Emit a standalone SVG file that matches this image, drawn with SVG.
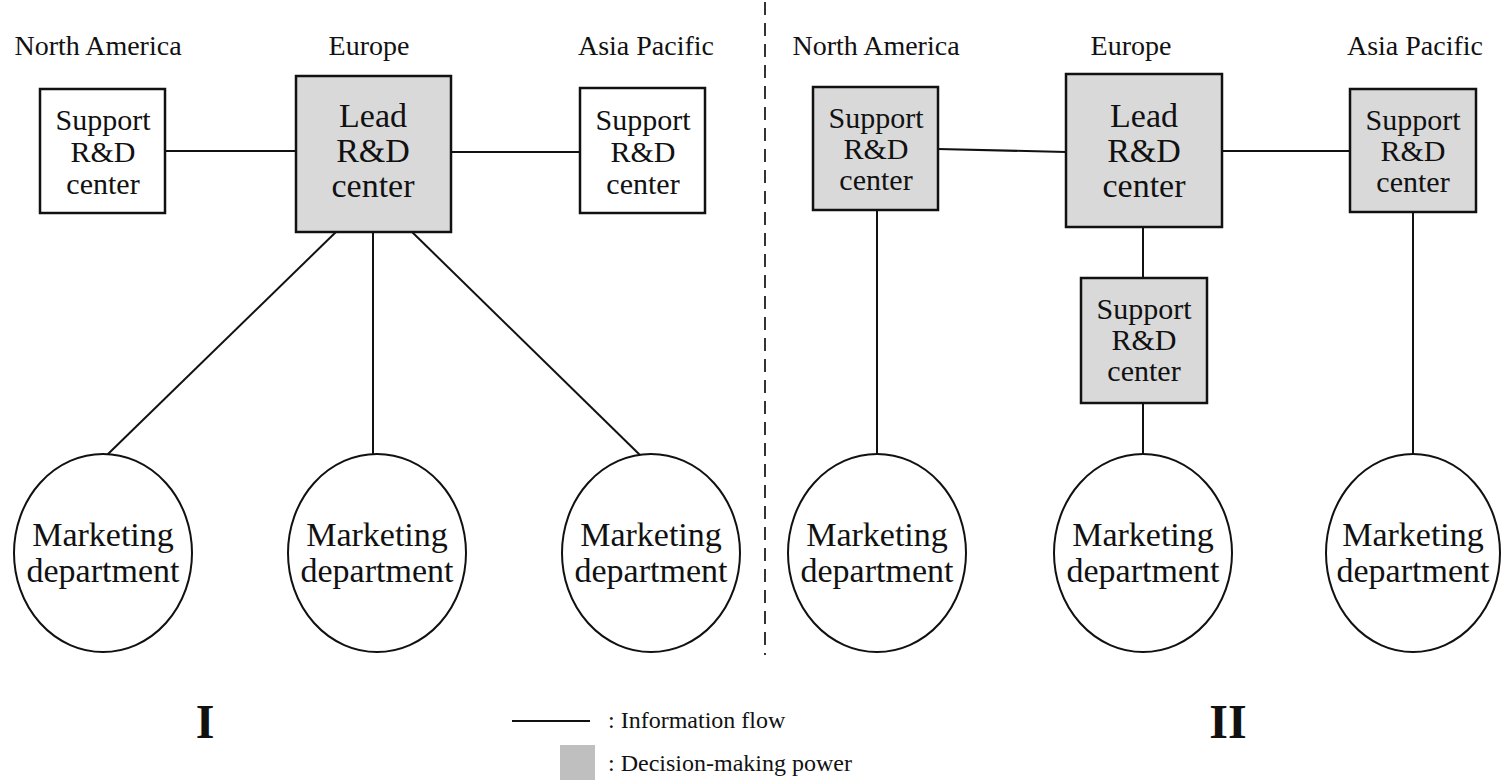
<svg xmlns="http://www.w3.org/2000/svg" width="1501" height="780" viewBox="0 0 1501 780">
<style>
text{font-family:"Liberation Serif","Times New Roman",serif;fill:#111;text-anchor:middle}
.hdr{font-size:28px}
.sup{font-size:30px}
.lead{font-size:34px}
.mkt{font-size:34px}
.leg{font-size:24px;text-anchor:start}
.num{font-size:48px;font-weight:bold}
.box{stroke:#111;stroke-width:2.5}
.white{fill:#fff}
.gray{fill:#d9d9d9}
.circ{fill:#fff;stroke:#111;stroke-width:2}
.con line{stroke:#111;stroke-width:2}
</style>
<rect width="1501" height="780" fill="#fff"/>

<g id="headers">
<text class="hdr" x="98" y="55">North America</text>
<text class="hdr" x="369" y="55">Europe</text>
<text class="hdr" x="646" y="55">Asia Pacific</text>
<text class="hdr" x="876" y="55">North America</text>
<text class="hdr" x="1131" y="55">Europe</text>
<text class="hdr" x="1415" y="55">Asia Pacific</text>
</g>

<line id="divider" x1="765" y1="2" x2="765" y2="655" stroke="#333" stroke-width="2" stroke-dasharray="13 8"/>

<g id="connectors" class="con">
<line x1="165" y1="151" x2="296" y2="151"/>
<line x1="451" y1="152" x2="580" y2="152"/>
<line x1="338" y1="230" x2="107" y2="455"/>
<line x1="373" y1="232" x2="373" y2="454"/>
<line x1="410" y1="230" x2="641" y2="456"/>
<line x1="938" y1="149" x2="1066" y2="152"/>
<line x1="1222" y1="151" x2="1350" y2="151"/>
<line x1="877" y1="210" x2="877" y2="454"/>
<line x1="1143" y1="227" x2="1143" y2="278"/>
<line x1="1143" y1="403" x2="1143" y2="454"/>
<line x1="1413" y1="212" x2="1413" y2="454"/>
</g>

<g id="I-support-na">
<rect class="box white" x="40" y="89" width="125" height="124"/>
<text class="sup" x="103" y="130">Support</text>
<text class="sup" x="103" y="162">R&amp;D</text>
<text class="sup" x="103" y="194">center</text>
</g>
<g id="I-lead-eu">
<rect class="box gray" x="296" y="76" width="155" height="156"/>
<text class="lead" x="373" y="127">Lead</text>
<text class="lead" x="373" y="162">R&amp;D</text>
<text class="lead" x="373" y="197">center</text>
</g>
<g id="I-support-ap">
<rect class="box white" x="580" y="88" width="125" height="125"/>
<text class="sup" x="643" y="130">Support</text>
<text class="sup" x="643" y="162">R&amp;D</text>
<text class="sup" x="643" y="194">center</text>
</g>
<g id="I-mkt-na">
<ellipse class="circ" cx="103" cy="553" rx="89" ry="99"/>
<text class="mkt" x="103" y="546">Marketing</text>
<text class="mkt" x="103" y="582">department</text>
</g>
<g id="I-mkt-eu">
<ellipse class="circ" cx="377" cy="553" rx="89" ry="99"/>
<text class="mkt" x="377" y="546">Marketing</text>
<text class="mkt" x="377" y="582">department</text>
</g>
<g id="I-mkt-ap">
<ellipse class="circ" cx="651" cy="553" rx="89" ry="99"/>
<text class="mkt" x="651" y="546">Marketing</text>
<text class="mkt" x="651" y="582">department</text>
</g>

<g id="II-support-na">
<rect class="box gray" x="813" y="87" width="125" height="123"/>
<text class="sup" x="876" y="128">Support</text>
<text class="sup" x="876" y="159">R&amp;D</text>
<text class="sup" x="876" y="190">center</text>
</g>
<g id="II-lead-eu">
<rect class="box gray" x="1066" y="74" width="156" height="153"/>
<text class="lead" x="1144" y="127">Lead</text>
<text class="lead" x="1144" y="162">R&amp;D</text>
<text class="lead" x="1144" y="197">center</text>
</g>
<g id="II-support-eu">
<rect class="box gray" x="1081" y="278" width="126" height="125"/>
<text class="sup" x="1144" y="319">Support</text>
<text class="sup" x="1144" y="350">R&amp;D</text>
<text class="sup" x="1144" y="381">center</text>
</g>
<g id="II-support-ap">
<rect class="box gray" x="1350" y="89" width="126" height="123"/>
<text class="sup" x="1413" y="130">Support</text>
<text class="sup" x="1413" y="161">R&amp;D</text>
<text class="sup" x="1413" y="192">center</text>
</g>
<g id="II-mkt-na">
<ellipse class="circ" cx="877" cy="553" rx="89" ry="99"/>
<text class="mkt" x="877" y="546">Marketing</text>
<text class="mkt" x="877" y="582">department</text>
</g>
<g id="II-mkt-eu">
<ellipse class="circ" cx="1143" cy="553" rx="89" ry="99"/>
<text class="mkt" x="1143" y="546">Marketing</text>
<text class="mkt" x="1143" y="582">department</text>
</g>
<g id="II-mkt-ap">
<ellipse class="circ" cx="1413" cy="553" rx="87" ry="99"/>
<text class="mkt" x="1413" y="546">Marketing</text>
<text class="mkt" x="1413" y="582">department</text>
</g>

<g id="labels">
<text class="num" x="205" y="738">I</text>
<text class="num" x="1228" y="738">II</text>
</g>
<g id="legend">
<line x1="512" y1="721" x2="590" y2="721" stroke="#111" stroke-width="2"/>
<text class="leg" x="608" y="728">: Information flow</text>
<rect x="560" y="745" width="35" height="35" fill="#bfbfbf"/>
<text class="leg" x="608" y="771">: Decision-making power</text>
</g>
</svg>
